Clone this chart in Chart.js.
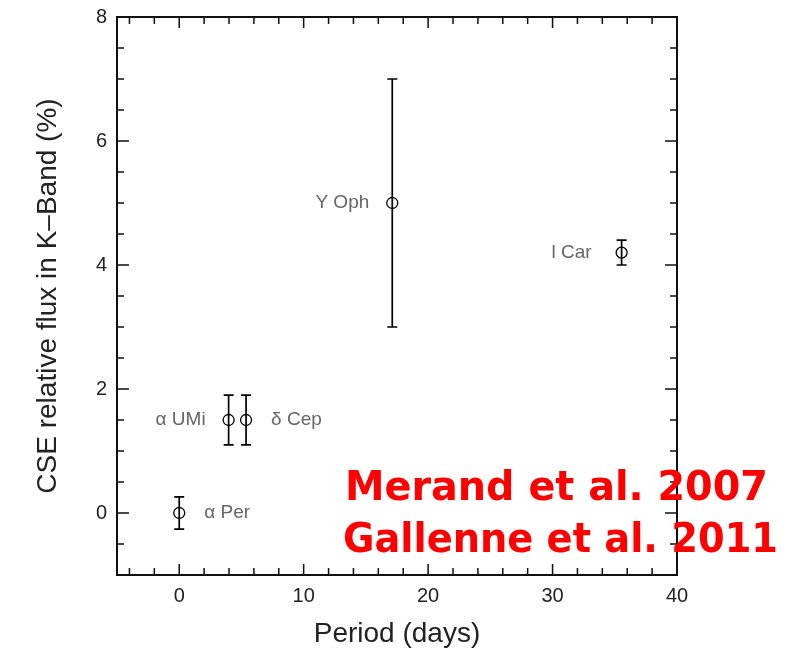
<!DOCTYPE html>
<html>
<head>
<meta charset="utf-8">
<script src="https://cdn.jsdelivr.net/npm/chart.js@4.4.1/dist/chart.umd.min.js"></script>
<style>
  html, body { margin: 0; padding: 0; background: #fff; }
</style>
</head>
<body>
<canvas id="cseChart" width="793" height="655"></canvas>
<script>
// Cepheid CSE flux in K band
const stars    = ['α Per', 'α UMi', 'δ Cep', 'Y Oph', 'l Car'];
const periods  = [0, 3.97, 5.37, 17.12, 35.55];
const flux     = [0, 1.5, 1.5, 5.0, 4.2];
const fluxErr  = [0.26, 0.4, 0.4, 2.0, 0.2];
const labelSide = ['right', 'left', 'right', 'left', 'left'];

const xTicks = [0, 10, 20, 30, 40];
const yTicks = [0, 2, 4, 6, 8];
const refLines = ['Merand et al. 2007', 'Gallenne et al. 2011'];

const tickFont = { family: 'Liberation Sans, Arial, sans-serif', size: 20 };
const titleFont = { family: 'Liberation Sans, Arial, sans-serif', size: 28 };

function drawTicks(ctx, chart) {
    const { x, y } = chart.scales;
    const { left, right, top, bottom } = chart.chartArea;
    ctx.beginPath();
    for (let v = -4; v <= 40; v += 2) {
        const px = x.getPixelForValue(v);
        const len = v % 10 === 0 ? 11 : 7;
        ctx.moveTo(px, bottom); ctx.lineTo(px, bottom - len);
        ctx.moveTo(px, top); ctx.lineTo(px, top + len);
    }
    for (let v = -1; v <= 8; v += 0.5) {
        const py = y.getPixelForValue(v);
        const len = v % 2 === 0 ? 12 : 7;
        ctx.moveTo(left, py); ctx.lineTo(left + len, py);
        ctx.moveTo(right, py); ctx.lineTo(right - len, py);
    }
    ctx.stroke();
}

const extras = {
    id: 'extras',
    beforeDatasetsDraw(chart) {
        const { ctx, scales: { x, y } } = chart;
        ctx.save();
        ctx.strokeStyle = '#000';
        ctx.lineWidth = 1.7;
        periods.forEach((p, i) => {
            const px = x.getPixelForValue(p);
            const hi = y.getPixelForValue(flux[i] + fluxErr[i]);
            const lo = y.getPixelForValue(flux[i] - fluxErr[i]);
            ctx.beginPath();
            ctx.moveTo(px, hi); ctx.lineTo(px, lo);
            ctx.moveTo(px - 5, hi); ctx.lineTo(px + 5, hi);
            ctx.moveTo(px - 5, lo); ctx.lineTo(px + 5, lo);
            ctx.stroke();
        });
        ctx.restore();
    },
    afterDraw(chart) {
        const { ctx, scales: { x, y } } = chart;
        const { left, right, top, bottom } = chart.chartArea;
        ctx.save();
        // frame + inward ticks
        ctx.strokeStyle = '#111';
        ctx.lineWidth = 2;
        ctx.strokeRect(left, top, right - left, bottom - top);
        ctx.lineWidth = 1.5;
        drawTicks(ctx, chart);

        // star names
        ctx.fillStyle = '#666';
        ctx.font = '19px "Liberation Sans", Arial, sans-serif';
        ctx.textBaseline = 'middle';
        stars.forEach((name, i) => {
            const px = x.getPixelForValue(periods[i]);
            const py = y.getPixelForValue(flux[i]);
            if (labelSide[i] === 'left') {
                ctx.textAlign = 'right';
                ctx.fillText(name, px - (i === 4 ? 30 : 23), py);
            } else {
                ctx.textAlign = 'left';
                ctx.fillText(name, px + 25, py);
            }
        });

        // references
        ctx.fillStyle = '#ff0000';
        ctx.font = 'bold 40px "Comic Sans MS", "DejaVu Sans", sans-serif';
        ctx.textAlign = 'left';
        ctx.textBaseline = 'alphabetic';
        ctx.fillText(refLines[0], 345, 500, 423);
        ctx.fillText(refLines[1], 343, 552, 435);
        ctx.restore();
    }
};

new Chart(document.getElementById('cseChart'), {
    type: 'scatter',
    data: {
        datasets: [{
            label: 'CSE flux',
            data: periods.map((p, i) => ({ x: p, y: flux[i] })),
            pointStyle: 'circle',
            pointRadius: 5.5,
            pointBorderWidth: 1.3,
            borderColor: '#000',
            backgroundColor: 'rgba(0,0,0,0)'
        }]
    },
    options: {
        responsive: false,
        animation: false,
        layout: { padding: { left: 0, top: 17, right: 116, bottom: 0 } },
        plugins: { legend: { display: false }, tooltip: { enabled: false } },
        scales: {
            x: {
                type: 'linear',
                min: -5, max: 40,
                afterFit: s => { s.height = 80; s.paddingLeft = 0; s.paddingRight = 0; },
                afterBuildTicks: s => { s.ticks = xTicks.map(v => ({ value: v })); },
                grid: { display: false, drawTicks: false },
                border: { display: false },
                ticks: { color: '#222', font: tickFont, padding: 9, maxRotation: 0 },
                title: { display: true, text: 'Period (days)', color: '#222', font: titleFont, padding: { top: 0, bottom: 4 } }
            },
            y: {
                type: 'linear',
                min: -1, max: 8,
                afterFit: s => { s.width = 117; s.paddingTop = 0; s.paddingBottom = 0; },
                afterBuildTicks: s => { s.ticks = yTicks.map(v => ({ value: v })); },
                grid: { display: false, drawTicks: false },
                border: { display: false },
                ticks: { color: '#222', font: tickFont, padding: 10 },
                title: { display: true, text: 'CSE relative flux in K–Band (%)', color: '#222', font: titleFont, padding: { top: 31, bottom: 0 } }
            }
        }
    },
    plugins: [extras]
});
</script>
</body>
</html>
